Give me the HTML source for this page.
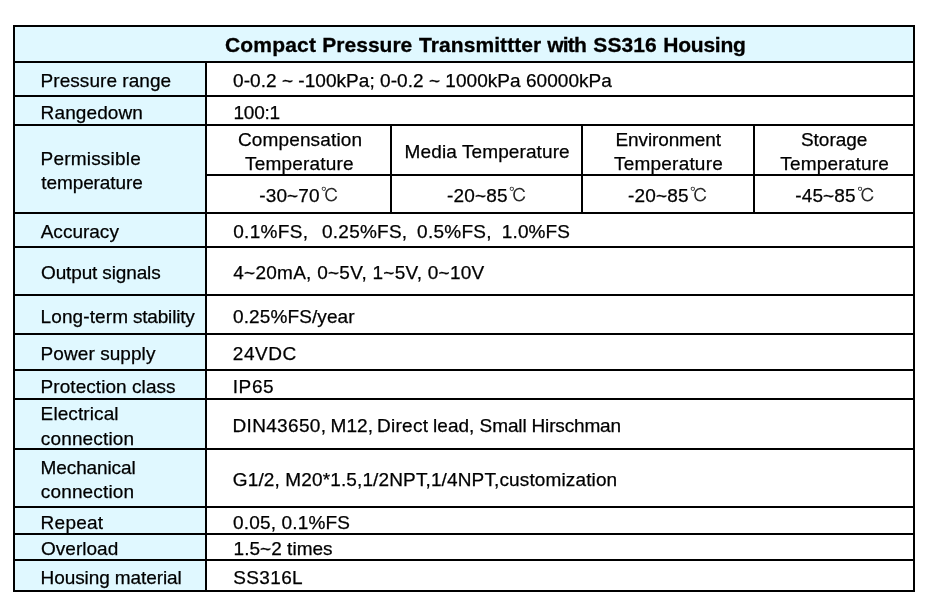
<!DOCTYPE html>
<html lang="en">
<head>
<meta charset="utf-8">
<title>Compact Pressure Transmittter with SS316 Housing</title>
<style>
html,body{margin:0;padding:0;background:#fff;}
body{width:943px;height:607px;position:relative;overflow:hidden;font-family:"Liberation Sans","Noto Sans CJK SC",sans-serif;color:#000;font-size:19px;line-height:24px;}
table{position:absolute;left:13px;top:25px;width:902px;border-collapse:collapse;border-spacing:0;table-layout:fixed;}
td,th{position:relative;padding:0;margin:0;border:2px solid #000;background:#fff;font-weight:normal;text-align:left;vertical-align:top;overflow:visible;}
th,td.k{background:#e0f8ff;}
th{font-weight:bold;font-size:21px;}
td span,th span{position:absolute;white-space:pre;-webkit-text-stroke:0.25px #000;}
th span{-webkit-text-stroke:0.3px #000;}
td span.d{font-family:"Liberation Sans","IPAGothic","Noto Sans CJK JP",sans-serif;font-size:18.5px;-webkit-text-stroke:0;color:#2a2a2a;}
</style>
</head>
<body>
<table>
<colgroup>
<col style="width:192px">
<col style="width:185px">
<col style="width:191px">
<col style="width:172px">
<col style="width:160px">
</colgroup>
<tbody>
<tr style="height:36px">
<th colspan="5"><span style="left:209.99px;top:6px;letter-spacing:0.189px">Compact</span> <span style="left:307.25px;top:6px;letter-spacing:0.022px">Pressure</span> <span style="left:404.06px;top:6px;letter-spacing:0.073px">Transmittter</span> <span style="left:532.15px;top:6px;letter-spacing:-0.741px">with</span> <span style="left:578.37px;top:6px;letter-spacing:0.044px">SS316</span> <span style="left:648.25px;top:6px;letter-spacing:-0.223px">Housing</span></th>
</tr>
<tr style="height:34px">
<td class="k"><span style="left:25.62px;top:6px;letter-spacing:0.044px">Pressure range</span></td>
<td colspan="4"><span style="left:26.06px;top:6px;letter-spacing:0.043px">0-0.2 ~ -100kPa; 0-0.2 ~ 1000kPa 60000kPa</span></td>
</tr>
<tr style="height:29px">
<td class="k"><span style="left:25.62px;top:4px;letter-spacing:0.114px">Rangedown</span></td>
<td colspan="4"><span style="left:26.55px;top:4px;letter-spacing:-0.244px">100:1</span></td>
</tr>
<tr style="height:50px">
<td class="k" rowspan="2"><span style="left:25.62px;top:21px;letter-spacing:0.191px">Permissible</span> <span style="left:26.32px;top:45px;letter-spacing:-0.106px">temperature</span></td>
<td><span style="left:30.94px;top:2px;letter-spacing:0.143px">Compensation</span> <span style="left:38.12px;top:26px;letter-spacing:0.185px">Temperature</span></td>
<td><span style="left:12.62px;top:14px;letter-spacing:0.108px">Media Temperature</span></td>
<td><span style="left:32.52px;top:2px;letter-spacing:-0.120px">Environment</span> <span style="left:31.12px;top:26px;letter-spacing:0.195px">Temperature</span></td>
<td><span style="left:45.88px;top:2px;letter-spacing:-0.002px">Storage</span> <span style="left:25.32px;top:26px;letter-spacing:0.195px">Temperature</span></td>
</tr>
<tr style="height:38px">
<td><span style="left:52.26px;top:8px;letter-spacing:0.119px">-30~70</span><span class="d" style="left:113.75px;top:8.35px">℃</span></td>
<td><span style="left:55.06px;top:8px;letter-spacing:0.155px">-20~85</span><span class="d" style="left:116.65px;top:8.35px">℃</span></td>
<td><span style="left:45.06px;top:8px;letter-spacing:0.155px">-20~85</span><span class="d" style="left:106.85px;top:8.35px">℃</span></td>
<td><span style="left:40.26px;top:8px;letter-spacing:0.135px">-45~85</span><span class="d" style="left:101.95px;top:8.35px">℃</span></td>
</tr>
<tr style="height:34px">
<td class="k"><span style="left:25.7px;top:6px;letter-spacing:0.008px">Accuracy</span></td>
<td colspan="4"><span style="left:26.16px;top:6px;letter-spacing:0.346px">0.1%FS,</span> <span style="left:115.06px;top:6px;letter-spacing:0.236px">0.25%FS,</span> <span style="left:210.06px;top:6px;letter-spacing:0.279px">0.5%FS,</span> <span style="left:294.85px;top:6px;letter-spacing:0.094px">1.0%FS</span></td>
</tr>
<tr style="height:48px">
<td class="k"><span style="left:26.06px;top:13px;letter-spacing:-0.142px">Output signals</span></td>
<td colspan="4"><span style="left:26.27px;top:13px;letter-spacing:0.259px">4~20mA, 0~5V, 1~5V, 0~10V</span></td>
</tr>
<tr style="height:39px">
<td class="k"><span style="left:25.62px;top:9px;letter-spacing:0.098px">Long-term</span> <span style="left:117.98px;top:9px;letter-spacing:-0.191px">stability</span></td>
<td colspan="4"><span style="left:26.06px;top:9px;letter-spacing:0.108px">0.25%FS/year</span></td>
</tr>
<tr style="height:36px">
<td class="k"><span style="left:25.62px;top:7px;letter-spacing:0.065px">Power supply</span></td>
<td colspan="4"><span style="left:25.81px;top:7px;letter-spacing:0.520px">24VDC</span></td>
</tr>
<tr style="height:29px">
<td class="k"><span style="left:25.62px;top:4px;letter-spacing:0.057px">Protection class</span></td>
<td colspan="4"><span style="left:25.66px;top:4px;letter-spacing:0.647px">IP65</span></td>
</tr>
<tr style="height:50px">
<td class="k"><span style="left:25.62px;top:2px;letter-spacing:0.097px">Electrical</span> <span style="left:25.84px;top:26.6px;letter-spacing:0.143px">connection</span></td>
<td colspan="4"><span style="left:25.52px;top:14px;letter-spacing:0.327px">DIN43650,</span> <span style="left:123.62px;top:14px;letter-spacing:0.053px">M12,</span> <span style="left:169.92px;top:14px;letter-spacing:0.313px">Direct</span> <span style="left:226.12px;top:14px;letter-spacing:0.015px">lead,</span> <span style="left:272.58px;top:14px;letter-spacing:-0.100px">Small</span> <span style="left:324.52px;top:14px;letter-spacing:-0.162px">Hirschman</span></td>
</tr>
<tr style="height:58px">
<td class="k"><span style="left:25.62px;top:6px;letter-spacing:-0.120px">Mechanical</span> <span style="left:25.84px;top:30px;letter-spacing:0.143px">connection</span></td>
<td colspan="4"><span style="left:25.77px;top:18px;letter-spacing:0.132px">G1/2, M20*1.5,1/2NPT,1/4NPT,customization</span></td>
</tr>
<tr style="height:27px">
<td class="k"><span style="left:25.62px;top:3px;letter-spacing:0.249px">Repeat</span></td>
<td colspan="4"><span style="left:26.06px;top:3px;letter-spacing:0.157px">0.05, 0.1%FS</span></td>
</tr>
<tr style="height:26px">
<td class="k"><span style="left:26.06px;top:1.6px;letter-spacing:0.012px">Overload</span></td>
<td colspan="4"><span style="left:26.55px;top:1.6px;letter-spacing:0.032px">1.5~2 times</span></td>
</tr>
<tr style="height:31px">
<td class="k"><span style="left:25.62px;top:5px;letter-spacing:-0.096px">Housing material</span></td>
<td colspan="4"><span style="left:26.28px;top:5px;letter-spacing:0.356px">SS316L</span></td>
</tr>
</tbody>
</table>
</body>
</html>
